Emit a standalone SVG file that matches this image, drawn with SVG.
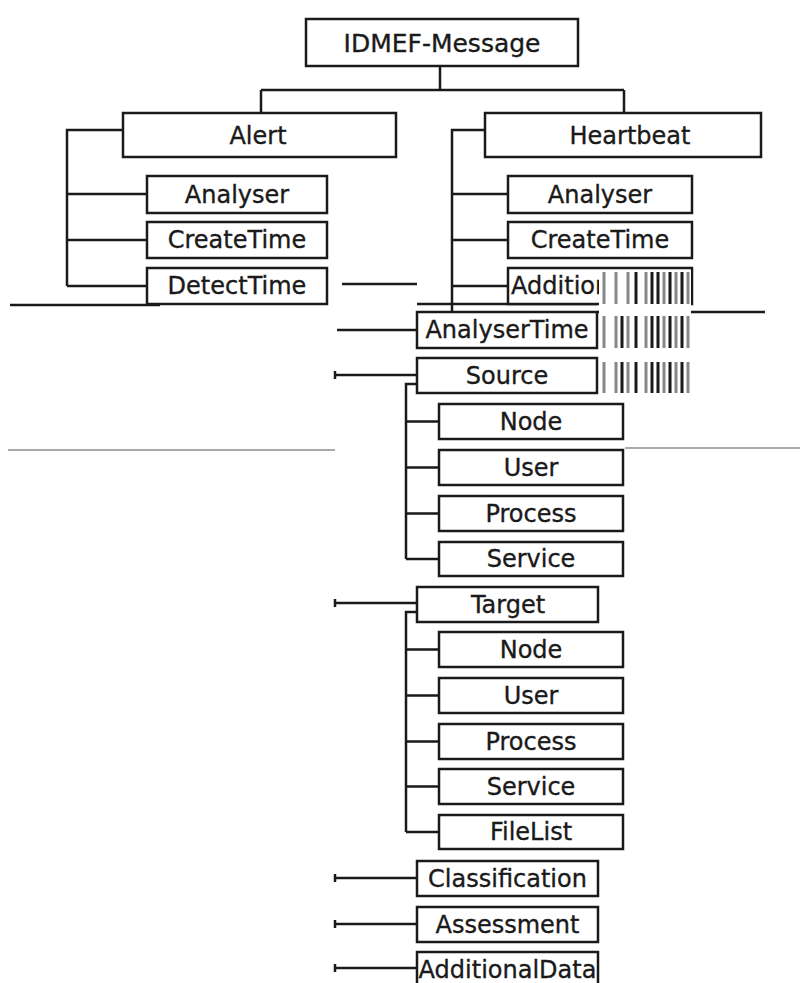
<svg xmlns="http://www.w3.org/2000/svg" width="802" height="983" viewBox="0 0 802 983">
<style>
.box{fill:#fff;stroke:#1a1a1a;stroke-width:2.5}
.lbl{font-family:"DejaVu Sans",sans-serif;font-size:24px;fill:#1a1a1a;stroke:#1a1a1a;stroke-width:0.35;text-anchor:middle}
.ln{fill:none;stroke:#1a1a1a;stroke-width:2.5}
.gl{fill:none;stroke:#aaa;stroke-width:2}
.sk{stroke:#1a1a1a;stroke-width:3}
.sg{stroke:#888;stroke-width:3}
</style>
<rect width="802" height="983" fill="#fff"/>
<g id="connectors">
<path class="ln" d="M440 67V90M261 90H624M261 90V113M624 90V113"/>
<path class="ln" d="M123 130H67V286M67 194H147M67 240H147M67 286H147"/>
<path class="ln" d="M485 130H452V312M452 194H508M452 240H508M452 286H508"/>
<path class="ln" d="M342 284H417M337 330H417M335 375H417M335 603H417M335 878H417M335 924H417M335 968H417"/>
<path class="ln" d="M335 371V379M335 599V607M335 874V882M335 920V928M335 964V972"/>
<path class="ln" d="M417 384H406V559M406 421.5H439M406 467.5H439M406 513.5H439M406 559H439"/>
<path class="ln" d="M417 612H406V832M406 649.5H439M406 695.5H439M406 741.5H439M406 786.5H439M406 832H439"/>
<path class="ln" d="M417 304H597M597 312H765M10 305H160"/>
<path class="gl" d="M8 450H335M625 448H800"/>
</g>
<g id="n-msg"><rect class="box" x="306" y="19" width="272" height="47"/><text class="lbl" x="442" y="52" style="font-size:25px">IDMEF-Message</text></g>
<g id="n-alert"><rect class="box" x="123" y="113" width="273" height="44"/><text class="lbl" x="258" y="144">Alert</text></g>
<g id="n-heartbeat"><rect class="box" x="485" y="113" width="276" height="44"/><text class="lbl" x="630" y="144">Heartbeat</text></g>
<g id="n-a-analyser"><rect class="box" x="147" y="176" width="180" height="37"/><text class="lbl" x="237" y="203">Analyser</text></g>
<g id="n-a-createtime"><rect class="box" x="147" y="222" width="180" height="36"/><text class="lbl" x="237" y="248">CreateTime</text></g>
<g id="n-a-detecttime"><rect class="box" x="147" y="268" width="180" height="36"/><text class="lbl" x="237" y="294">DetectTime</text></g>
<g id="n-h-analyser"><rect class="box" x="508" y="176" width="184" height="37"/><text class="lbl" x="600" y="203">Analyser</text></g>
<g id="n-h-createtime"><rect class="box" x="508" y="222" width="184" height="36"/><text class="lbl" x="600" y="248">CreateTime</text></g>
<g id="n-h-additionaldata"><rect class="box" x="508" y="268" width="184" height="36"/><text class="lbl" x="600" y="294">AdditionalData</text></g>
<g id="n-analysertime"><rect class="box" x="417" y="312" width="180" height="36"/><text class="lbl" x="507" y="338">AnalyserTime</text></g>
<g id="n-source"><rect class="box" x="417" y="358" width="180" height="35"/><text class="lbl" x="507" y="384">Source</text></g>
<g id="n-s-node"><rect class="box" x="439" y="404" width="184" height="35"/><text class="lbl" x="531" y="430">Node</text></g>
<g id="n-s-user"><rect class="box" x="439" y="450" width="184" height="35"/><text class="lbl" x="531" y="476">User</text></g>
<g id="n-s-process"><rect class="box" x="439" y="496" width="184" height="35"/><text class="lbl" x="531" y="522">Process</text></g>
<g id="n-s-service"><rect class="box" x="439" y="542" width="184" height="34"/><text class="lbl" x="531" y="567">Service</text></g>
<g id="n-target"><rect class="box" x="417" y="587" width="181" height="35"/><text class="lbl" x="508" y="613">Target</text></g>
<g id="n-t-node"><rect class="box" x="439" y="632" width="184" height="35"/><text class="lbl" x="531" y="658">Node</text></g>
<g id="n-t-user"><rect class="box" x="439" y="678" width="184" height="35"/><text class="lbl" x="531" y="704">User</text></g>
<g id="n-t-process"><rect class="box" x="439" y="724" width="184" height="35"/><text class="lbl" x="531" y="750">Process</text></g>
<g id="n-t-service"><rect class="box" x="439" y="769" width="184" height="35"/><text class="lbl" x="531" y="795">Service</text></g>
<g id="n-t-filelist"><rect class="box" x="439" y="815" width="184" height="34"/><text class="lbl" x="531" y="840">FileList</text></g>
<g id="n-classification"><rect class="box" x="417" y="861" width="181" height="35"/><text class="lbl" x="507.5" y="887">Classification</text></g>
<g id="n-assessment"><rect class="box" x="417" y="907" width="181" height="35"/><text class="lbl" x="507.5" y="933">Assessment</text></g>
<g id="n-additionaldata"><rect class="box" x="417" y="952" width="181" height="36"/><text class="lbl" x="507.5" y="978">AdditionalData</text></g>
<g id="glitch-stripes">
<rect x="599" y="270" width="92" height="124" fill="#fff"/>
<path class="sg" d="M604 272V304M616 272V304M628 272V304M646 272V304M664 272V304M676 272V304M688 272V304"/>
<path class="sk" d="M636 272V304M652 272V304M658 272V304M670 272V304M682 272V304"/>
<path class="sg" d="M604 316V348M616 316V348M628 316V348M646 316V348M664 316V348M676 316V348M688 316V348"/>
<path class="sk" d="M622 316V348M636 316V348M652 316V348M658 316V348M670 316V348M682 316V348"/>
<path class="sg" d="M604 362V393M616 362V393M628 362V393M646 362V393M664 362V393M676 362V393M688 362V393"/>
<path class="sk" d="M622 362V393M636 362V393M652 362V393M658 362V393M670 362V393M682 362V393"/>
</g>
</svg>
